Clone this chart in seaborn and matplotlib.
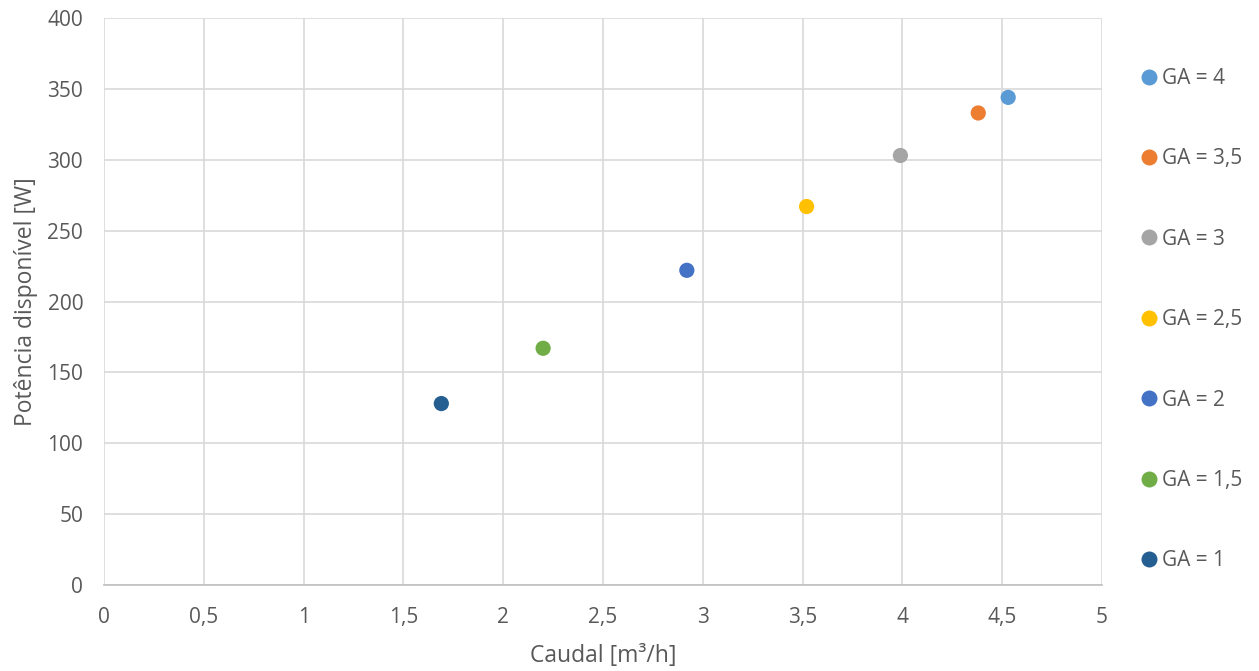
import matplotlib
matplotlib.use("Agg")
import matplotlib.pyplot as plt
import seaborn as sns
import pandas as pd

labels = ["GA = 1", "GA = 1,5", "GA = 2", "GA = 2,5", "GA = 3", "GA = 3,5", "GA = 4"]
caudal = [1.69, 2.20, 2.92, 3.52, 3.99, 4.38, 4.53]
potencia = [128, 167, 222, 267, 303, 333, 344]
colors = ["#255E91", "#70AD47", "#4472C4", "#FFC000", "#A5A5A5", "#ED7D31", "#5B9BD5"]
xticks = [0, 0.5, 1, 1.5, 2, 2.5, 3, 3.5, 4, 4.5, 5]
xticklabels = ["0", "0,5", "1", "1,5", "2", "2,5", "3", "3,5", "4", "4,5", "5"]
yticks = [0, 50, 100, 150, 200, 250, 300, 350, 400]

df = pd.DataFrame({"GA": labels, "Caudal": caudal, "Potencia": potencia})

sns.set_theme(style="white")
plt.rcParams["font.family"] = ["Open Sans", "DejaVu Sans"]

fig = plt.figure(figsize=(12.59, 6.71), dpi=100)
ax = fig.add_axes([104/1259, 86/671, 998/1259, 567/671])

sns.scatterplot(data=df, x="Caudal", y="Potencia", hue="GA",
                hue_order=labels[::-1], palette=dict(zip(labels, colors)),
                s=120, edgecolor="none", ax=ax, zorder=3, legend=True)

ax.set_xlim(0, 5)
ax.set_ylim(0, 400)
ax.set_xticks(xticks)
ax.set_xticklabels(xticklabels)
ax.set_yticks(yticks)
ax.grid(True, color="#D9D9D9", linewidth=1.2)
ax.set_axisbelow(True)
for side in ["top", "right", "left"]:
    ax.spines[side].set_visible(False)
ax.spines["bottom"].set_color("#BFBFBF")
ax.spines["bottom"].set_linewidth(1.2)
ax.tick_params(axis="both", length=0, labelsize=15, labelcolor="#595959")
ax.tick_params(axis="y", pad=15)
ax.tick_params(axis="x", pad=16)
ax.set_xlabel("Caudal [m³/h]", fontsize=16.5, color="#595959", labelpad=11)
ax.set_ylabel("Potência disponível [W]", fontsize=16.5, color="#595959", labelpad=6.5)

handles, lbls = ax.get_legend_handles_labels()
ax.legend(handles, lbls, loc="upper left", bbox_to_anchor=(1140/1259, 1 - 68/671),
          bbox_transform=fig.transFigure, frameon=False, fontsize=15,
          labelcolor="#595959", labelspacing=2.85, handletextpad=0.15,
          handlelength=0.9, borderaxespad=0, borderpad=0, markerscale=1.05)

fig.savefig("out.png", dpi=100)
